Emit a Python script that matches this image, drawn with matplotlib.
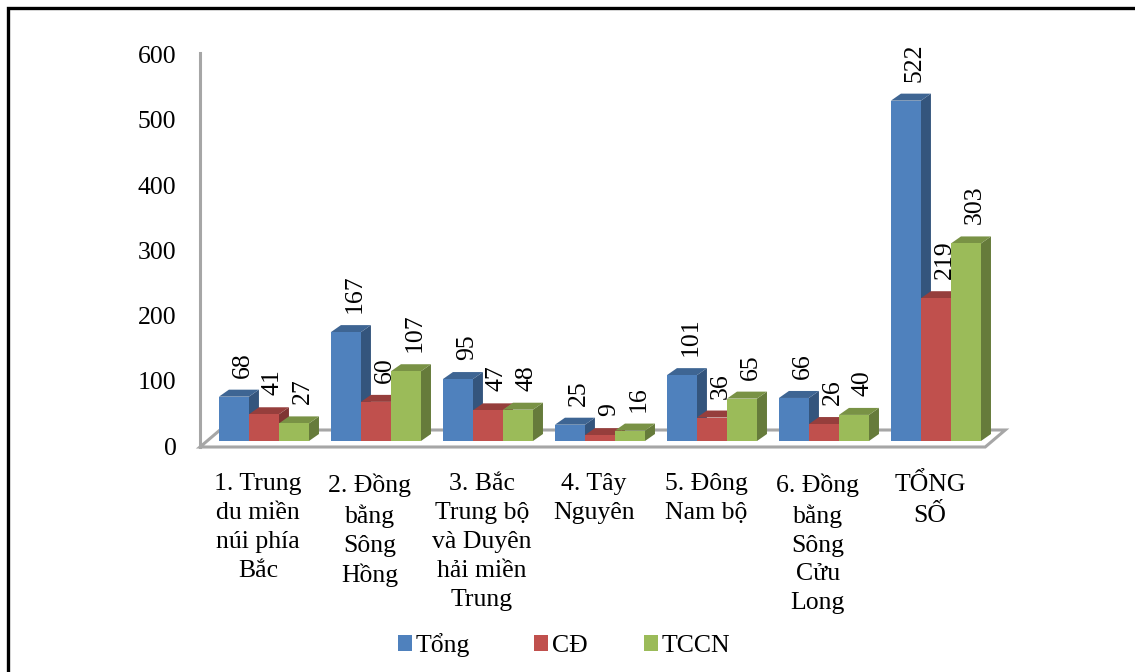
import matplotlib
matplotlib.use("Agg")
import matplotlib.pyplot as plt
import matplotlib.colors as mcolors
from matplotlib.patches import Polygon, Rectangle
from matplotlib.lines import Line2D
from matplotlib.transforms import ScaledTranslation

# ---- data ----
categories = [
    "1. Trung\ndu miền\nnúi phía\nBắc",
    "2. Đồng\nbằng\nSông\nHồng",
    "3. Bắc\nTrung bộ\nvà Duyên\nhải miền\nTrung",
    "4. Tây\nNguyên",
    "5. Đông\nNam bộ",
    "6. Đồng\nbằng\nSông\nCửu\nLong",
    "TỔNG\nSỐ",
]
series_names = ["Tổng", "CĐ", "TCCN"]
tong = [68, 167, 95, 25, 101, 66, 522]
cd = [41, 60, 47, 9, 36, 26, 219]
tccn = [27, 107, 48, 16, 65, 40, 303]
yticks = [0, 100, 200, 300, 400, 500, 600]

series_values = [tong, cd, tccn]
colors = ["#4F81BD", "#C0504D", "#9BBB59"]

# ---- figure / axes layout ----
W, H, DPI = 1135, 672, 100
FONT = "Liberation Serif"
FS = 18.5
plt.rcParams["font.family"] = [FONT, "DejaVu Serif"]

fig = plt.figure(figsize=(W / DPI, H / DPI), dpi=DPI)
ax_left, ax_right, ax_top, ax_bottom = 200, 1012, 40, 447
ax = fig.add_axes([ax_left / W, (H - ax_bottom) / H,
                   (ax_right - ax_left) / W, (ax_bottom - ax_top) / H])
XLIM = (-0.571, 6.679)
YLIM = (-9.2, 615)
ax.set_xlim(*XLIM)
ax.set_ylim(*YLIM)

px_x = (ax_right - ax_left) / (XLIM[1] - XLIM[0])   # pixels per x unit
px_y = (ax_bottom - ax_top) / (YLIM[1] - YLIM[0])   # pixels per y unit

def dx(px):
    return px / px_x

def dy(px):
    return px / px_y

bar_w = 0.268
depth = (dx(10), dy(7))
gray = "#A6A6A6"

# ---- floor ----
floor_depth = (dx(20), dy(17))
floor_right = 6.44
floor = Polygon([(XLIM[0], YLIM[0]), (floor_right, YLIM[0]),
                 (floor_right + floor_depth[0], YLIM[0] + floor_depth[1]),
                 (XLIM[0] + floor_depth[0], YLIM[0] + floor_depth[1])],
                closed=True, facecolor="white", edgecolor=gray, lw=2.2,
                zorder=1, clip_on=False)
ax.add_patch(floor)

# ---- 3D bars ----
def shade(c, f):
    r, g, b = mcolors.to_rgb(c)
    return (r * f, g * f, b * f)

z = 2
n_series = len(series_values)
for i in range(len(categories)):
    for s in range(n_series):
        v = series_values[s][i]
        x0 = i + (s - n_series / 2) * bar_w
        x1 = x0 + bar_w
        c = colors[s]
        ddx, ddy = depth
        side = Polygon([(x1, 0), (x1 + ddx, ddy), (x1 + ddx, v + ddy), (x1, v)],
                       closed=True, facecolor=shade(c, 0.66), edgecolor="none",
                       zorder=z)
        top = Polygon([(x0, v), (x1, v), (x1 + ddx, v + ddy), (x0 + ddx, v + ddy)],
                      closed=True, facecolor=shade(c, 0.78), edgecolor="none",
                      zorder=z + 0.1)
        ax.add_patch(side)
        ax.add_patch(top)
        ax.bar(x0, v, width=bar_w, align="edge", color=c, edgecolor="none",
               zorder=z + 0.2)
        z += 1

# ---- value labels ----
lab_off = ScaledTranslation(9 / DPI, 19 / DPI, fig.dpi_scale_trans)
for i in range(len(categories)):
    for s in range(n_series):
        v = series_values[s][i]
        xc = i + (s - n_series / 2 + 0.5) * bar_w
        ax.text(xc, v, str(v), rotation=90, ha="center", va="bottom",
                fontsize=FS, family=FONT, transform=ax.transData + lab_off,
                zorder=100)

# ---- axes styling ----
for sp in ["top", "right", "bottom"]:
    ax.spines[sp].set_visible(False)
ax.spines["left"].set_color(gray)
ax.spines["left"].set_linewidth(2.2)
ax.spines["left"].set_bounds(YLIM[0], dy(441 - 53))
ax.spines["left"].set_zorder(1.5)
ax.patch.set_visible(False)

ax.set_yticks(yticks)
ax.set_yticklabels([str(t) for t in yticks], fontsize=FS, family=FONT)
ax.tick_params(axis="y", length=0, pad=17)
ydown = ScaledTranslation(0, -5 / DPI, fig.dpi_scale_trans)
for lbl in ax.get_yticklabels():
    lbl.set_transform(lbl.get_transform() + ydown)

ax.set_xticks(range(len(categories)))
ax.set_xticklabels(categories, fontsize=FS, family=FONT, linespacing=1.40)
ax.tick_params(axis="x", length=0, pad=19)
xleft = ScaledTranslation(-6 / DPI, 0, fig.dpi_scale_trans)
for lbl in ax.get_xticklabels():
    lbl.set_transform(lbl.get_transform() + xleft)

# ---- legend ----
leg_y = H - 643
leg_square = [398, 534, 644]
for name, c, xs in zip(series_names, colors, leg_square):
    fig.add_artist(Rectangle((xs / W, (leg_y - 8) / H), 14 / W, 16 / H,
                             transform=fig.transFigure, facecolor=c,
                             edgecolor="none"))
    fig.text((xs + 18) / W, leg_y / H, name, ha="left", va="center_baseline",
             fontsize=FS, family=FONT)

# ---- outer frame (top and left edges) ----
fx, fy = 8, 8
fig.add_artist(Line2D([fx / W, fx / W, 1.0], [0.0, (H - fy) / H, (H - fy) / H],
                      transform=fig.transFigure, color="black", lw=2.4,
                      solid_joinstyle="miter"))

fig.savefig("out.png", dpi=DPI)
